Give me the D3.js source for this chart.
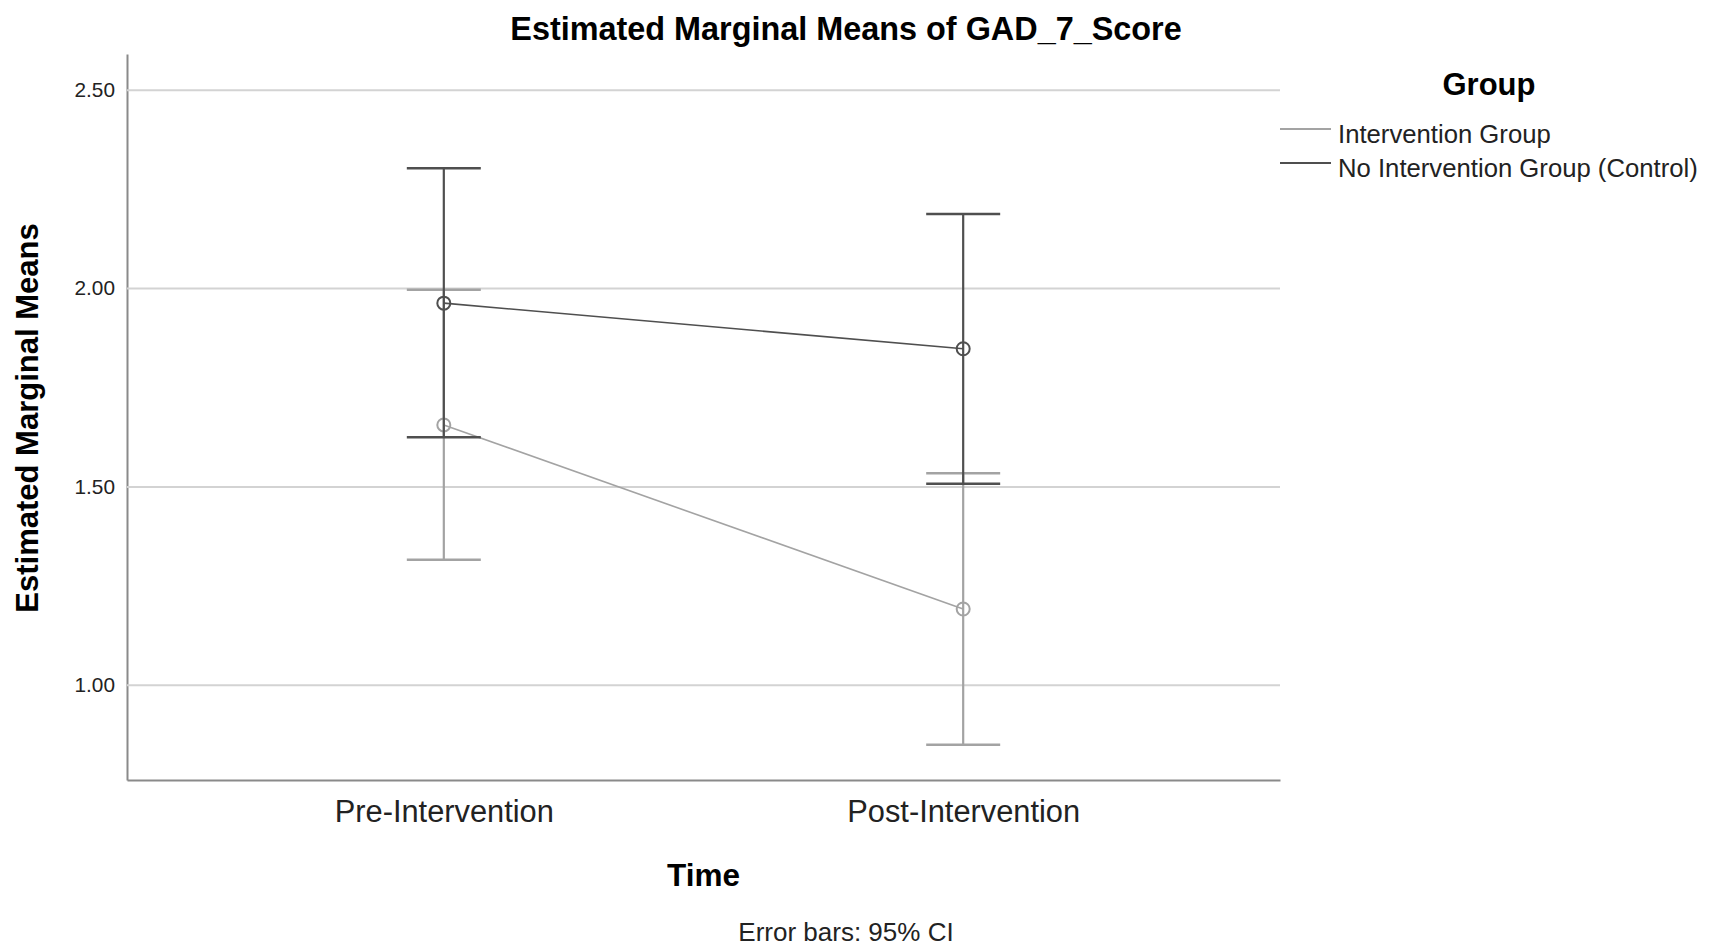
<!DOCTYPE html>
<html>
<head>
<meta charset="utf-8">
<script src="https://cdn.jsdelivr.net/npm/d3@7"></script>
<style>
  body { margin: 0; background: #fff; }
  svg { display: block; font-family: "Liberation Sans", Arial, sans-serif; }
</style>
</head>
<body>
<svg id="chart" width="1710" height="949"></svg>
<script>
// values
const times = ["Pre-Intervention", "Post-Intervention"];
const groups = ["Intervention Group", "No Intervention Group (Control)"];

const interventionMean = [1.655, 1.191];
const interventionLow = [1.315, 0.849];
const interventionHigh = [1.996, 1.533];

const controlMean = [1.962, 1.847];
const controlLow = [1.624, 1.507];
const controlHigh = [2.302, 2.187];

const yTicks = [1.0, 1.5, 2.0, 2.5];

const series = [
  {name: groups[0], mean: interventionMean, low: interventionLow, high: interventionHigh, color: "#a3a3a3"},
  {name: groups[1], mean: controlMean, low: controlLow, high: controlHigh, color: "#4f4f4f"}
];

const plotLeft = 127, plotRight = 1280, plotTop = 54, plotBottom = 780;

const svg = d3.select("#chart");

const x = d3.scalePoint()
  .domain(times)
  .range([plotLeft, plotRight])
  .padding(0.61);

const y = d3.scaleLinear()
  .domain([0.76, 2.59])
  .range([plotBottom, plotTop]);

// y axis with grid lines
const yAxis = svg.append("g")
  .attr("transform", `translate(${plotLeft},0)`)
  .call(d3.axisLeft(y)
    .tickValues(yTicks)
    .tickSizeInner(-(plotRight - plotLeft))
    .tickSizeOuter(0)
    .tickPadding(12)
    .tickFormat(d3.format(".2f")));
yAxis.select(".domain").attr("stroke", "#8a8a8a").attr("stroke-width", 2);
yAxis.selectAll(".tick line").attr("stroke", "#d3d3d3").attr("stroke-width", 2);
yAxis.selectAll(".tick text")
  .attr("font-size", 20.8)
  .attr("fill", "#222")
  .attr("font-family", "Liberation Sans, Arial, sans-serif");

// x axis
const xAxis = svg.append("g")
  .attr("transform", `translate(0,${plotBottom})`)
  .call(d3.axisBottom(x).tickSize(0).tickPadding(20));
xAxis.select(".domain").attr("stroke", "#8a8a8a").attr("stroke-width", 2);
xAxis.selectAll(".tick text")
  .attr("font-size", 30.8)
  .attr("fill", "#222")
  .attr("font-family", "Liberation Sans, Arial, sans-serif");

const capHalf = 37;

const groupG = svg.selectAll(".series")
  .data(series)
  .join("g")
    .attr("class", "series");

// error bars, mean lines and markers
groupG.each(function (s) {
  const g = d3.select(this);
  const pts = times.map((t, i) => ({t: t, mean: s.mean[i], low: s.low[i], high: s.high[i]}));

  g.selectAll(".stem")
    .data(pts)
    .join("line")
      .attr("x1", d => x(d.t))
      .attr("x2", d => x(d.t))
      .attr("y1", d => y(d.low))
      .attr("y2", d => y(d.high))
      .attr("stroke", s.color)
      .attr("stroke-width", 2.2);

  g.selectAll(".capHigh")
    .data(pts)
    .join("line")
      .attr("x1", d => x(d.t) - capHalf)
      .attr("x2", d => x(d.t) + capHalf)
      .attr("y1", d => y(d.high))
      .attr("y2", d => y(d.high))
      .attr("stroke", s.color)
      .attr("stroke-width", 2.5);

  g.selectAll(".capLow")
    .data(pts)
    .join("line")
      .attr("x1", d => x(d.t) - capHalf)
      .attr("x2", d => x(d.t) + capHalf)
      .attr("y1", d => y(d.low))
      .attr("y2", d => y(d.low))
      .attr("stroke", s.color)
      .attr("stroke-width", 2.5);

  g.append("path")
    .datum(pts)
    .attr("fill", "none")
    .attr("stroke", s.color)
    .attr("stroke-width", 1.6)
    .attr("d", d3.line().x(d => x(d.t)).y(d => y(d.mean)));

  g.selectAll("circle")
    .data(pts)
    .join("circle")
      .attr("cx", d => x(d.t))
      .attr("cy", d => y(d.mean))
      .attr("r", 6.5)
      .attr("fill", "none")
      .attr("stroke", s.color)
      .attr("stroke-width", 2);
});

// titles
svg.append("text")
  .attr("x", 846)
  .attr("y", 40)
  .attr("text-anchor", "middle")
  .attr("font-size", 32.4)
  .attr("font-weight", "bold")
  .text("Estimated Marginal Means of GAD_7_Score");

svg.append("text")
  .attr("transform", "translate(38,418) rotate(-90)")
  .attr("text-anchor", "middle")
  .attr("font-size", 31)
  .attr("font-weight", "bold")
  .text("Estimated Marginal Means");

svg.append("text")
  .attr("x", (plotLeft + plotRight) / 2)
  .attr("y", 886)
  .attr("text-anchor", "middle")
  .attr("font-size", 31.5)
  .attr("font-weight", "bold")
  .text("Time");

svg.append("text")
  .attr("x", 846)
  .attr("y", 941)
  .attr("text-anchor", "middle")
  .attr("font-size", 26)
  .attr("fill", "#222")
  .text("Error bars: 95% CI");

// legend
svg.append("text")
  .attr("x", 1489)
  .attr("y", 95)
  .attr("text-anchor", "middle")
  .attr("font-size", 31)
  .attr("font-weight", "bold")
  .text("Group");

const legend = svg.selectAll(".legend-item")
  .data(series)
  .join("g")
    .attr("class", "legend-item")
    .attr("transform", (d, i) => `translate(1280,${129 + i * 34})`);

legend.append("line")
  .attr("x1", 0)
  .attr("x2", 51)
  .attr("stroke", d => d.color)
  .attr("stroke-width", 2);

legend.append("text")
  .attr("x", 58)
  .attr("y", 14)
  .attr("font-size", 25.7)
  .attr("fill", "#222")
  .text(d => d.name);
</script>
</body>
</html>
